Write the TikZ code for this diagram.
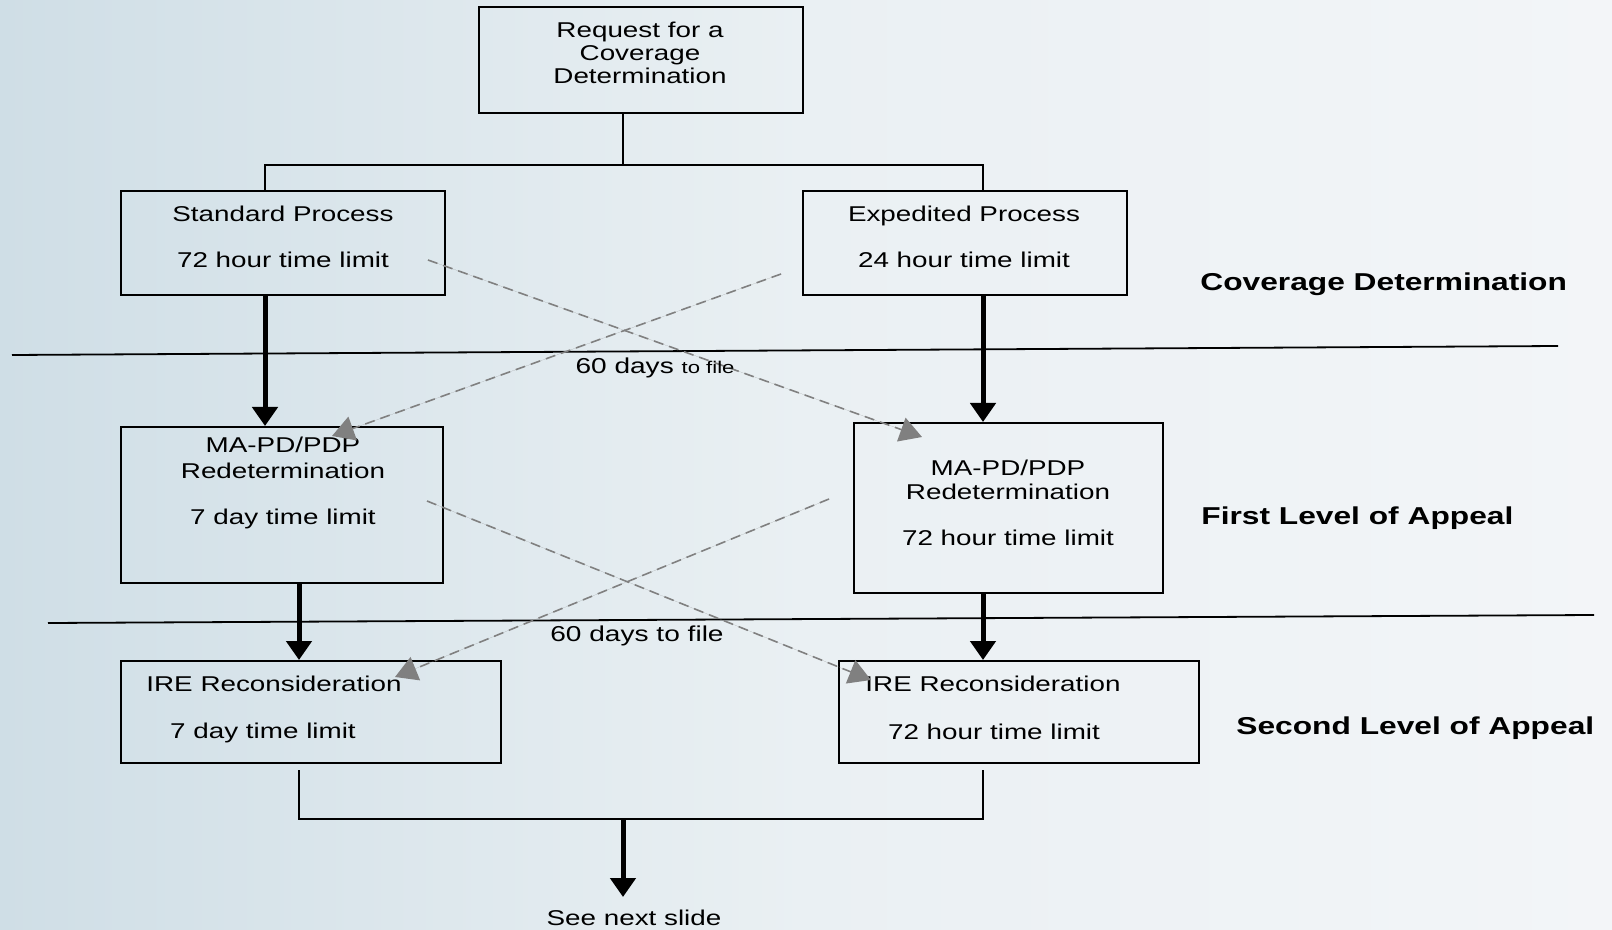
\documentclass[tikz,border=0pt]{standalone}
\usepackage{fontspec}
\setmainfont{Liberation Sans}[FakeStretch=1.3]
\usetikzlibrary{arrows.meta}
\definecolor{bgleft}{HTML}{CFDEE6}
\definecolor{bgmid}{HTML}{EAF0F3}
\definecolor{bgright}{HTML}{F3F5F8}
\definecolor{dashgray}{HTML}{808080}

\begin{document}
\begin{tikzpicture}[
  x=0.5pt, y=-0.5pt,
  box/.style={draw, line width=1pt, inner sep=0pt},
  boxtext/.style={font=\fontsize{10.7}{11.5}\selectfont, align=center, inner sep=0pt},
  level/.style={font=\fontsize{12.2}{14}\selectfont\bfseries, anchor=west, inner sep=0pt},
  filenote/.style={font=\fontsize{10.8}{13}\selectfont, inner sep=0pt},
  link/.style={line width=0.8pt},
  flow/.style={-{Triangle[length=9.5pt, width=12.5pt]}, line width=2.5pt},
  appeal/.style={-{Triangle[length=11pt, width=12.5pt]}, draw=dashgray, fill=dashgray,
    line width=0.8pt, dash pattern=on 5pt off 3pt},
  divider/.style={line width=0.9pt},
]

% Background
\useasboundingbox (0,0) rectangle (1612,930);
\shade[left color=bgleft, right color=bgright, middle color=bgmid] (0,0) rectangle (1612,930);

% Columns used by the connectors
\coordinate (colA) at (265,0);
\coordinate (colB) at (299,0);
\coordinate (colC) at (623,0);
\coordinate (colD) at (983,0);

% Boxes
\node[box, minimum width=162pt, minimum height=53pt] (req)  at (641,60)    {};
\node[box, minimum width=162pt, minimum height=52pt] (std)  at (283,243)   {};
\node[box, minimum width=162pt, minimum height=52pt] (exp)  at (965,243)   {};
\node[box, minimum width=161pt, minimum height=78pt] (redL) at (282,505)   {};
\node[box, minimum width=154.5pt, minimum height=85pt] (redR) at (1008.5,508) {};
\node[box, minimum width=190pt, minimum height=51pt] (ireL) at (311,712)   {};
\node[box, minimum width=180pt, minimum height=51pt] (ireR) at (1019,712)  {};

% Box texts
\node[boxtext] (reqT) at (640,53) {Request for a\\Coverage\\Determination};
\node[boxtext] (stdT) at (283,237) {Standard Process\\[11.5pt]72 hour time limit};
\node[boxtext] (expT) at (964,237) {Expedited Process\\[11.5pt]24 hour time limit};
\node[boxtext] (redLT) at (283,483) {MA-PD/PDP\\[1.5pt]Redetermination\\[11.5pt]7 day time limit};
\node[boxtext] (redRT) at (1008,503) {MA-PD/PDP\\[0.5pt]Redetermination\\[11.5pt]72 hour time limit};
\node[boxtext] (ireLA) at (274,684) {IRE Reconsideration};
\node[boxtext] (ireLB) at (263,733) {7 day time limit};
\node[boxtext] (ireRA) at (993,684) {IRE Reconsideration};
\node[boxtext] (ireRB) at (994,732) {72 hour time limit};

% Level labels
\node[level] (lvlA) at (1200,284) {Coverage Determination};
\node[level] (lvlB) at (1201,518) {First Level of Appeal};
\node[level] (lvlC) at (1236,728) {Second Level of Appeal};

% Level separators
\draw[divider] (12,355) -- (1558,346);
\draw[divider] (48,623) -- (1594,615);

% 1. Request splits into the two processes
\coordinate (splitT) at (623,165);
\draw[link] (req.south -| colC) -- (splitT);
\draw[link] (std.north -| colA) |- (splitT) -| (exp.north -| colD);

% 2. Processes to redetermination
\draw[flow] (std.south -| colA) -- (redL.north -| colA);
\draw[flow] (exp.south -| colD) -- (redR.north -| colD);

% 3. Redetermination to reconsideration
\draw[flow] (redL.south -| colB) -- (ireL.north -| colB);
\draw[flow] (redR.south -| colD) -- (ireR.north -| colD);

% 4. Crossing appeals (60 days to file)
\coordinate (stdOut) at (428,260);
\coordinate (expOut) at (781,274);
\coordinate (redLIn) at (332,436);
\coordinate (redRIn) at (922,437);
\draw[appeal] (stdOut) -- (redRIn);
\draw[appeal] (expOut) -- (redLIn);
\node[filenote] (fileA) at (655,368) {60 days {\fontsize{8.5}{10}\selectfont to file}};

\coordinate (redLOut) at (427,501);
\coordinate (redROut) at (829,499);
\coordinate (ireLIn) at (395,677);
\coordinate (ireRIn) at (871,680);
\draw[appeal] (redLOut) -- (ireRIn);
\draw[appeal] (redROut) -- (ireLIn);
\node[filenote] (fileB) at (637,636) {60 days to file};

% 5. Both reconsiderations lead on
\coordinate (mergeB) at (623,819);
\coordinate (nextTip) at (623,897);
\draw[link, shorten <=3pt, shorten >=3pt] (ireL.south -| colB) |- (mergeB) -| (ireR.south -| colD);
\draw[flow] (mergeB) -- (nextTip);
\node[boxtext] (next) at (634,918) {See next slide};

\end{tikzpicture}
\end{document}
